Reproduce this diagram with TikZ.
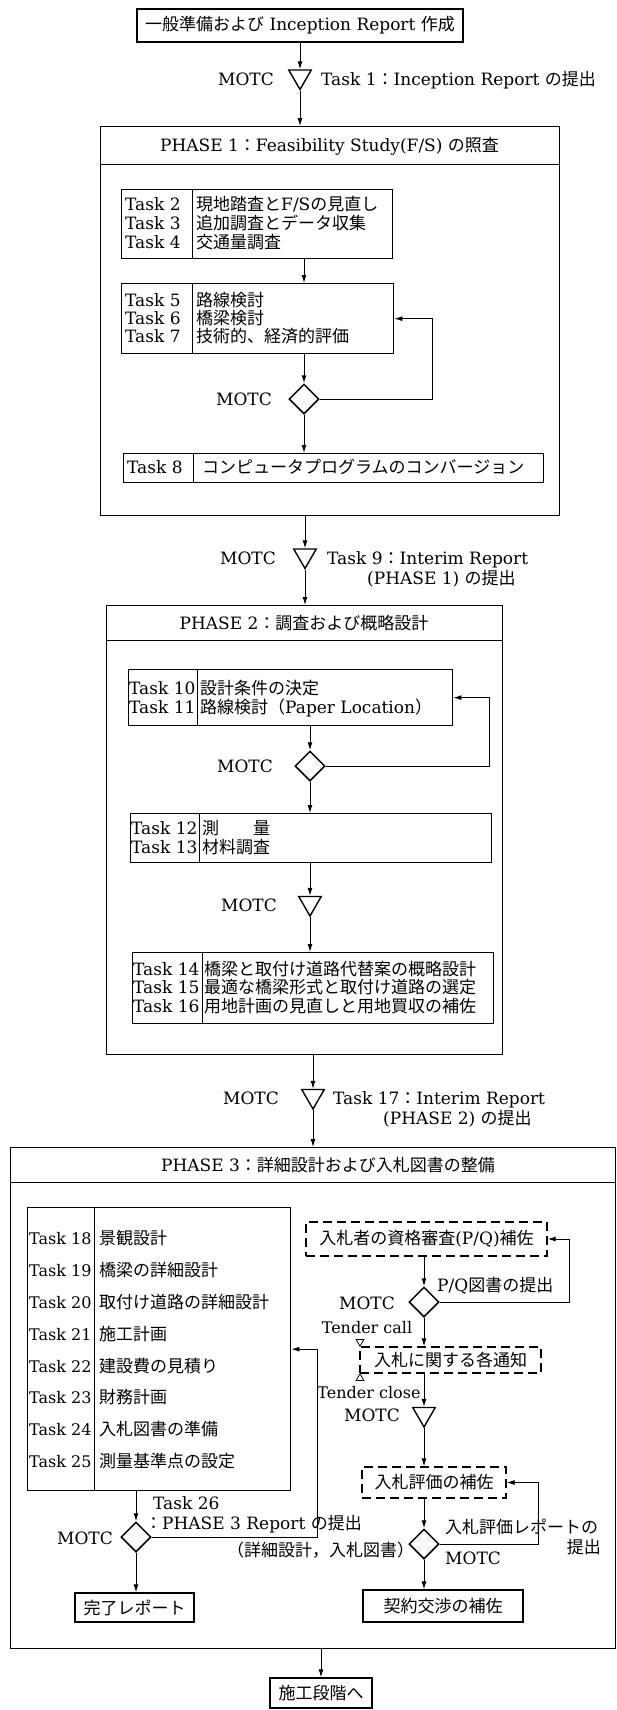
\documentclass[tikz,border=0pt]{standalone}
\usepackage{fontspec}
\setmainfont{DejaVu Serif}
\newfontfamily\jpfont{Noto Sans CJK JP}
\usetikzlibrary{shapes.geometric,arrows.meta}
\newcommand{\J}[1]{{\jpfont #1}}
\newcommand{\fsz}{\fontsize{17}{20}\selectfont}
\newcommand{\fss}{\fontsize{16}{19}\selectfont}
\newcommand{\trow}[6]{%
  \node[lab,anchor=west] (#1a) at (#2,#4) {#5};
  \node[lab,anchor=west] (#1b) at (#3,#4) {#6};}
\begin{document}
\begin{tikzpicture}[x=1pt,y=-1pt,
  every node/.style={font=\fsz},
  box/.style={draw,line width=1.3pt,inner sep=0pt},
  tbox/.style={draw,line width=1.3pt,inner sep=0pt,anchor=north west},
  pbox/.style={draw,line width=1.1pt,inner sep=0pt,anchor=north west},
  dbox/.style={draw,line width=1.3pt,dash pattern=on 9pt off 5pt,inner sep=0pt},
  lab/.style={inner sep=0pt,text height=13pt,text depth=1pt},
  dia/.style={diamond,draw,line width=1.5pt,minimum width=30pt,minimum height=30pt,inner sep=0pt},
  tri/.style={regular polygon,regular polygon sides=3,shape border rotate=180,draw,line width=1.4pt,minimum size=26pt,inner sep=0pt},
  mtri/.style={regular polygon,regular polygon sides=3,draw,line width=0.8pt,minimum size=9pt,inner sep=0pt},
  arr/.style={-{Latex[length=8pt,width=5pt]},line width=1pt},
  ln/.style={line width=1pt}]
\fill[white] (0,0) rectangle (617,1710);
\useasboundingbox (0,0) rectangle (617,1710);

% ---------- start ----------
\node[box,minimum width=326pt,minimum height=33pt] (start) at (300,25.5) {\J{一般準備および} Inception Report \J{作成}};
\node[tri] (tr1) at (300,76.5) {};
\node[lab,anchor=east] (m1) at (274,79) {MOTC};
\node[lab,anchor=west] (tk1) at (321,79) {Task 1\J{：}Inception Report \J{の提出}};

% ---------- PHASE 1 ----------
\node[pbox,minimum width=459pt,minimum height=389pt] (p1) at (100,126) {};
\draw[ln] (100,164) -- (559,164);
\node[lab] (h1) at (329.5,145) {PHASE 1\J{：}Feasibility Study(F/S) \J{の照査}};

\node[tbox,minimum width=271pt,minimum height=69pt] (t2) at (121,189) {};
\draw[ln] (192,189) -- (192,258);
\trow{r2}{125}{196}{204}{Task 2}{\J{現地踏査と}F/S\J{の見直し}}
\trow{r3}{125}{196}{223}{Task 3}{\J{追加調査とデータ収集}}
\trow{r4}{125}{196}{242}{Task 4}{\J{交通量調査}}

\node[tbox,minimum width=272pt,minimum height=70pt] (t5) at (121,283) {};
\draw[ln] (192,283) -- (192,353);
\trow{r5}{125}{196}{300}{Task 5}{\J{路線検討}}
\trow{r6}{125}{196}{318}{Task 6}{\J{橋梁検討}}
\trow{r7}{125}{196}{336}{Task 7}{\J{技術的、経済的評価}}

\node[dia] (d1) at (304,399) {};
\node[lab,anchor=east] (m2) at (272,399) {MOTC};

\node[tbox,minimum width=420pt,minimum height=29pt] (t8) at (123,453) {};
\draw[ln] (193,453) -- (193,482);
\trow{r8}{127}{202}{467.5}{Task 8}{\J{コンピュータプログラムのコンバージョン}}

\draw[arr] (t2.south -| d1) -- (t5.north -| d1);
\draw[arr] (t5.south -| d1) -- (d1.north);
\draw[arr] (d1.south) -- (t8.north -| d1);
\draw[arr] (d1.east) -- ++(113,0) |- (t5.east);

\draw[arr] (start.south) -- (tr1.north);
\draw[arr] (tr1.south) -- (tr1.south |- p1.north);

% ---------- Task 9 ----------
\node[tri] (tr2) at (305,555.5) {};
\node[lab,anchor=east] (m3) at (276,558) {MOTC};
\node[lab,anchor=west] (tk9a) at (327,558) {Task 9\J{：}Interim Report};
\node[lab,anchor=west] (tk9b) at (367,578) {(PHASE 1) \J{の提出}};

% ---------- PHASE 2 ----------
\node[pbox,minimum width=396pt,minimum height=449pt] (p2) at (106,605) {};
\draw[ln] (106,640) -- (502,640);
\node[lab] (h2) at (304,623) {PHASE 2\J{：調査および概略設計}};

\draw[arr] (tr2 |- p1.south) -- (tr2.north);
\draw[arr] (tr2.south) -- (tr2.south |- p2.north);

\node[tbox,minimum width=324pt,minimum height=56pt] (t10) at (128,669) {};
\draw[ln] (197,669) -- (197,725);
\trow{r10}{129}{200}{688}{Task 10}{\J{設計条件の決定}}
\trow{r11}{129}{200}{707}{Task 11}{\J{路線検討（}Paper Location\J{）}}

\node[dia] (d2) at (310,766) {};
\node[lab,anchor=east] (m4) at (273,766) {MOTC};

\node[tbox,minimum width=361pt,minimum height=49pt] (t12) at (130,813) {};
\draw[ln] (199,813) -- (199,862);
\trow{r12}{131}{202}{828}{Task 12}{\J{測　　量}}
\trow{r13}{131}{202}{847}{Task 13}{\J{材料調査}}

\node[tri] (tr3) at (310,903) {};
\node[lab,anchor=east] (m5) at (277,905) {MOTC};

\node[tbox,minimum width=361pt,minimum height=71pt] (t14) at (132,952) {};
\draw[ln] (202,952) -- (202,1023);
\trow{r14}{133}{204}{969}{Task 14}{\J{橋梁と取付け道路代替案の概略設計}}
\trow{r15}{133}{204}{987.5}{Task 15}{\J{最適な橋梁形式と取付け道路の選定}}
\trow{r16}{133}{204}{1006}{Task 16}{\J{用地計画の見直しと用地買収の補佐}}

\draw[arr] (t10.south -| d2) -- (d2.north);
\draw[arr] (d2.east) -- ++(164,0) |- (t10.east);
\draw[arr] (d2.south) -- (t12.north -| d2);
\draw[arr] (t12.south -| tr3) -- (tr3.north);
\draw[arr] (tr3.south) -- (t14.north -| tr3);

% ---------- Task 17 ----------
\node[tri] (tr5) at (313,1096) {};
\node[lab,anchor=east] (m6) at (279,1098) {MOTC};
\node[lab,anchor=west] (tk17a) at (333,1098) {Task 17\J{：}Interim Report};
\node[lab,anchor=west] (tk17b) at (383,1118) {(PHASE 2) \J{の提出}};

% ---------- PHASE 3 ----------
\node[pbox,minimum width=605pt,minimum height=501pt] (p3) at (10,1147) {};
\draw[ln] (10,1182) -- (615,1182);
\node[lab] (h3) at (328,1165) {PHASE 3\J{：詳細設計および入札図書の整備}};

\draw[arr] (tr5 |- p2.south) -- (tr5.north);
\draw[arr] (tr5.south) -- (tr5.south |- p3.north);

\node[tbox,minimum width=263pt,minimum height=283pt] (t18) at (27,1207) {};
\draw[ln] (94,1207) -- (94,1490);
\trow{r18}{29}{99}{1238}{\fss Task 18}{\J{景観設計}}
\trow{r19}{29}{99}{1270}{\fss Task 19}{\J{橋梁の詳細設計}}
\trow{r20}{29}{99}{1302}{\fss Task 20}{\J{取付け道路の詳細設計}}
\trow{r21}{29}{99}{1334}{\fss Task 21}{\J{施工計画}}
\trow{r22}{29}{99}{1366}{\fss Task 22}{\J{建設費の見積り}}
\trow{r23}{29}{99}{1397}{\fss Task 23}{\J{財務計画}}
\trow{r24}{29}{99}{1429}{\fss Task 24}{\J{入札図書の準備}}
\trow{r25}{29}{99}{1461}{\fss Task 25}{\J{測量基準点の設定}}

\node[dia] (d3) at (136,1537) {};
\node[lab,anchor=east] (m7) at (113,1538) {MOTC};
\node[lab,anchor=west] (tk26a) at (153,1503) {Task 26};
\node[lab,anchor=west] (tk26b) at (145,1523) {\J{：}PHASE 3 Report \J{の提出}};
\node[lab,anchor=west] (tk26c) at (227,1550) {\J{（詳細設計，入札図書）}};
\node[box,minimum width=119pt,minimum height=29pt] (done) at (134.5,1607.5) {\J{完了レポート}};

\draw[arr] (t18.south -| d3) -- (d3.north);
\draw[arr] (d3.south) -- (d3 |- done.north);
\draw[arr] (d3.east) -- ++(166,0) |- (t18.east);

% right column
\node[dbox,minimum width=241pt,minimum height=34pt] (q1) at (426.5,1239) {\J{入札者の資格審査}(P/Q)\J{補佐}};
\node[dia] (d4) at (424,1302) {};
\node[lab,anchor=west] (pq) at (437,1285) {P/Q\J{図書の提出}};
\node[lab,anchor=east] (m8) at (395,1303) {MOTC};
\node[lab,font=\fss] (tc) at (367,1327) {Tender call};
\node[dbox,minimum width=181pt,minimum height=26pt] (q2) at (450.5,1360) {\J{入札に関する各通知}};
\node[mtri,shape border rotate=180,anchor=south] (mk1) at (360,1347) {};
\node[mtri,anchor=north] (mk2) at (360,1373) {};
\node[lab,font=\fss] (tcl) at (369,1392) {Tender close};
\node[tri] (tr4) at (424,1414) {};
\node[lab,anchor=east] (m9) at (400,1415) {MOTC};
\node[dbox,minimum width=144pt,minimum height=31pt] (q3) at (434,1482.5) {\J{入札評価の補佐}};
\node[dia] (d5) at (424,1544) {};
\node[lab,anchor=west] (er1) at (445,1527) {\J{入札評価レポートの}};
\node[lab,anchor=east] (er2) at (601,1547) {\J{提出}};
\node[lab,anchor=west] (m10) at (445,1558) {MOTC};
\node[box,minimum width=160pt,minimum height=32pt] (nego) at (443,1606) {\J{契約交渉の補佐}};

\draw[arr] (q1.south -| d4) -- (d4.north);
\draw[arr] (d4.east) -- ++(130,0) |- (q1.east);
\draw[arr] (d4.south) -- (q2.north -| d4);
\draw[arr] (q2.south -| tr4) -- (tr4.north);
\draw[arr] (tr4.south) -- (q3.north -| tr4);
\draw[arr] (q3.south -| d5) -- (d5.north);
\draw[arr] (d5.east) -- ++(99,0) |- (q3.east);
\draw[arr] (d5.south) -- (nego.north -| d5);

% ---------- end ----------
\node[box,minimum width=102pt,minimum height=30pt] (fin) at (321,1693) {\J{施工段階へ}};
\draw[arr] (fin |- p3.south) -- (fin.north);
\end{tikzpicture}
\end{document}
